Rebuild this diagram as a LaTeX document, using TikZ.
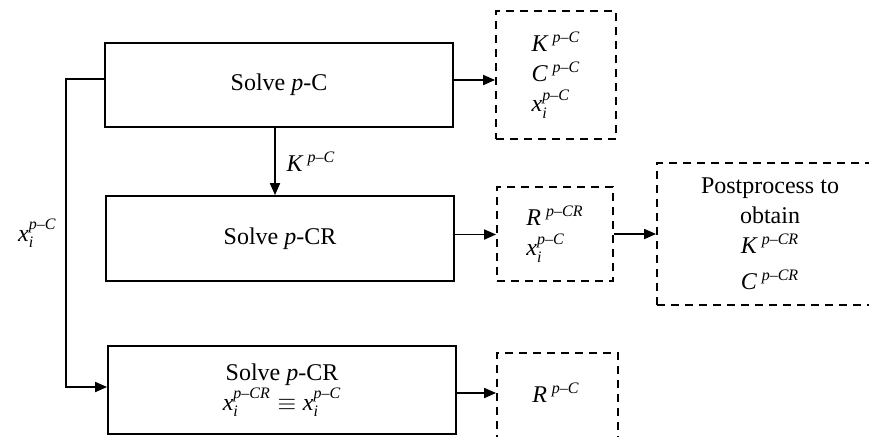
\documentclass[tikz,border=0pt]{standalone}
\usepackage{amsmath}
\usepackage{fontspec}
\setmainfont{Liberation Serif}
\usetikzlibrary{arrows.meta}
\newcommand{\quant}[2]{$\textit{#1}^{\kern2.5pt\textit{p}\text{–}\textit{#2}}$}
\newcommand{\xvar}[1]{$\textit{x}_{\textit{i}}^{\textit{p}\text{–}\textit{#1}}$}
\begin{document}
\begin{tikzpicture}[x=0.5pt,y=-0.5pt,line width=0.9pt,
		font=\fontsize{12}{15}\selectfont,
		>={Triangle[length=6pt,width=5pt]},
		solvebox/.style={draw, minimum width=174pt, inner sep=0pt, align=center},
		outbox/.style={draw, dash pattern=on 4pt off 3pt, inner sep=0pt, align=left}]
	\useasboundingbox (0,0) rectangle (869,436);
	\clip (0,0) rectangle (869,436);
	\node[solvebox, minimum height=42pt] (pc) at (279,85) {Solve \textit{p}-C};
	\node[solvebox, minimum height=42.5pt] (pcr) at (280,238.5) {Solve \textit{p}-CR};
	\node[solvebox, minimum height=44pt] (pcrfix) at (282,390) {Solve \textit{p}-CR\\$\textit{x}_{\textit{i}}^{\textit{p}\text{–}\textit{CR}}\equiv\textit{x}_{\textit{i}}^{\textit{p}\text{–}\textit{C}}$};
	\node[outbox, minimum width=60pt, minimum height=64pt] (outc) at (556,75) {\quant{K}{C}\\\quant{C}{C}\\\xvar{C}};
	\node[outbox, minimum width=58pt, minimum height=47pt] (outcr) at (555,234) {\quant{R}{CR}\\\xvar{C}};
	\node[outbox, minimum width=113pt, minimum height=71pt, align=center] (post) at (770,234) {Postprocess to\\obtain\\\quant{K}{CR}\\[3pt]\quant{C}{CR}};
	\node[outbox, minimum width=60.5pt, minimum height=55pt, anchor=north] (outr) at (557.5,352) {};
	\node (rval) at (556,393) {\quant{R}{C}};
	\draw[->] ([yshift=2.5pt]pc.east) -- ([yshift=2.5pt]pc.east -| outc.west);
	\draw[->] ([xshift=-2pt]pc.south) -- node[right,xshift=2pt] {\quant{K}{C}} ([xshift=-2pt]pc.south |- pcr.north);
	\draw[->] ([yshift=2pt]pcr.east) -- ([yshift=2pt]pcr.east -| outcr.west);
	\draw[->] (outcr.east) -- (post.west);
	\draw[->] ([yshift=-1.5pt]pcrfix.east) -- ([yshift=-1.5pt]pcrfix.east -| outr.west);
	\draw[->] ([yshift=3pt]pc.west) -- ++(-38,0) |- node[pos=0.25,left,xshift=-1pt] {\xvar{C}} ([yshift=1.5pt]pcrfix.west);
\end{tikzpicture}
\end{document}
